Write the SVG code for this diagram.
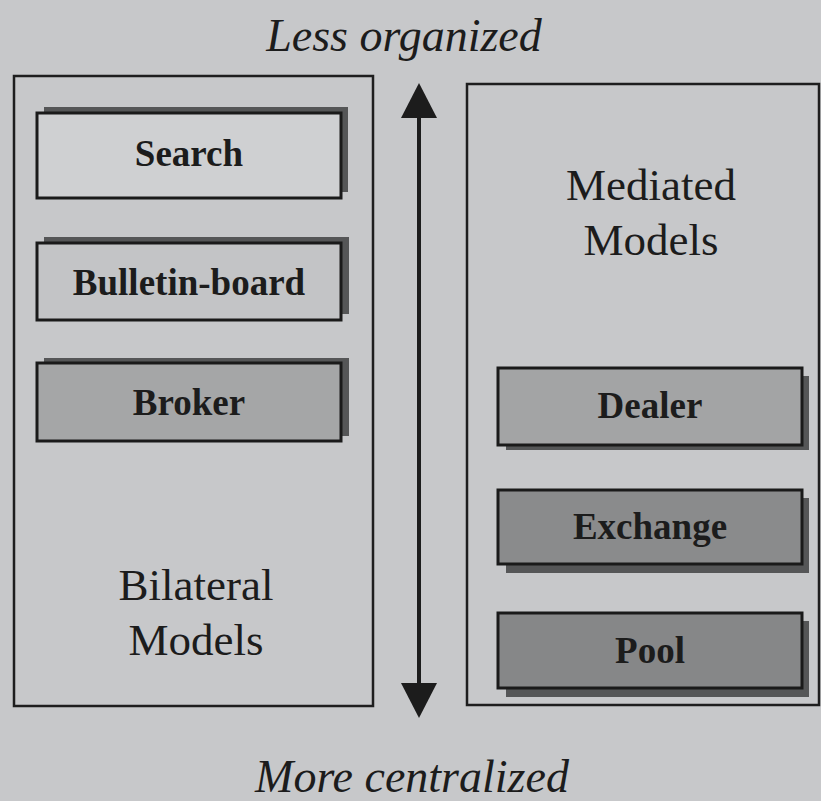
<svg xmlns="http://www.w3.org/2000/svg" width="821" height="801" viewBox="0 0 821 801">
  <defs>
    <marker id="head" viewBox="0 0 35 36" refX="0" refY="18" markerWidth="35" markerHeight="36" markerUnits="userSpaceOnUse" orient="auto-start-reverse">
      <path d="M0,0 L35,18 L0,36 Z" fill="#1c1c1c"/>
    </marker>
  </defs>
  <style>
    .panel { fill: none; stroke: #1e1e1e; stroke-width: 2.5; }
    .box { stroke: #1a1a1a; stroke-width: 3; }
    .shadow { fill: #555657; }
    .lbl { font-family: "Liberation Serif", "Times New Roman", serif; font-weight: bold; font-size: 37px; fill: #1c1c1c; text-anchor: middle; }
    .big { font-family: "Liberation Serif", "Times New Roman", serif; font-size: 45px; fill: #1c1c1c; text-anchor: middle; }
    .axis { font-family: "Liberation Serif", "Times New Roman", serif; font-style: italic; font-size: 46px; fill: #1c1c1c; text-anchor: middle; }
  </style>
  <rect x="0" y="0" width="821" height="801" fill="#c7c8ca"/>

  <text class="axis" x="404" y="51">Less organized</text>
  <text class="axis" x="412" y="792">More centralized</text>

  <g id="bilateral">
    <rect class="panel" x="14" y="76" width="359" height="630"/>
    <text class="big" x="196" y="600">Bilateral</text>
    <text class="big" x="196" y="655">Models</text>
  </g>

  <g id="mediated">
    <rect class="panel" x="467" y="84" width="352" height="621"/>
    <text class="big" x="651" y="200">Mediated</text>
    <text class="big" x="651" y="255">Models</text>
  </g>

  <g id="search">
    <rect class="shadow" x="44" y="107" width="304" height="85"/>
    <rect class="box" x="37" y="113" width="304" height="85" fill="#cfd0d2"/>
    <text class="lbl" x="189" y="166">Search</text>
  </g>

  <g id="bulletin-board">
    <rect class="shadow" x="44" y="237" width="305" height="77"/>
    <rect class="box" x="37" y="243" width="304" height="77" fill="#c3c4c6"/>
    <text class="lbl" x="189" y="295">Bulletin-board</text>
  </g>

  <g id="broker">
    <rect class="shadow" x="44" y="358" width="305" height="78"/>
    <rect class="box" x="37" y="363" width="304" height="78" fill="#a5a6a7"/>
    <text class="lbl" x="189" y="415">Broker</text>
  </g>

  <g id="dealer">
    <rect class="shadow" x="506" y="376" width="303" height="74"/>
    <rect class="box" x="498" y="368" width="304" height="77" fill="#a3a4a5"/>
    <text class="lbl" x="650" y="418">Dealer</text>
  </g>

  <g id="exchange">
    <rect class="shadow" x="506" y="498" width="303" height="75"/>
    <rect class="box" x="498" y="490" width="304" height="74" fill="#8a8b8c"/>
    <text class="lbl" x="650" y="539">Exchange</text>
  </g>

  <g id="pool">
    <rect class="shadow" x="506" y="621" width="303" height="76"/>
    <rect class="box" x="498" y="613" width="304" height="75" fill="#868788"/>
    <text class="lbl" x="650" y="663">Pool</text>
  </g>

  <g id="connectors">
    <path d="M419,118 L419,683" stroke="#1c1c1c" stroke-width="4" fill="none" marker-start="url(#head)" marker-end="url(#head)"/>
  </g>
</svg>
